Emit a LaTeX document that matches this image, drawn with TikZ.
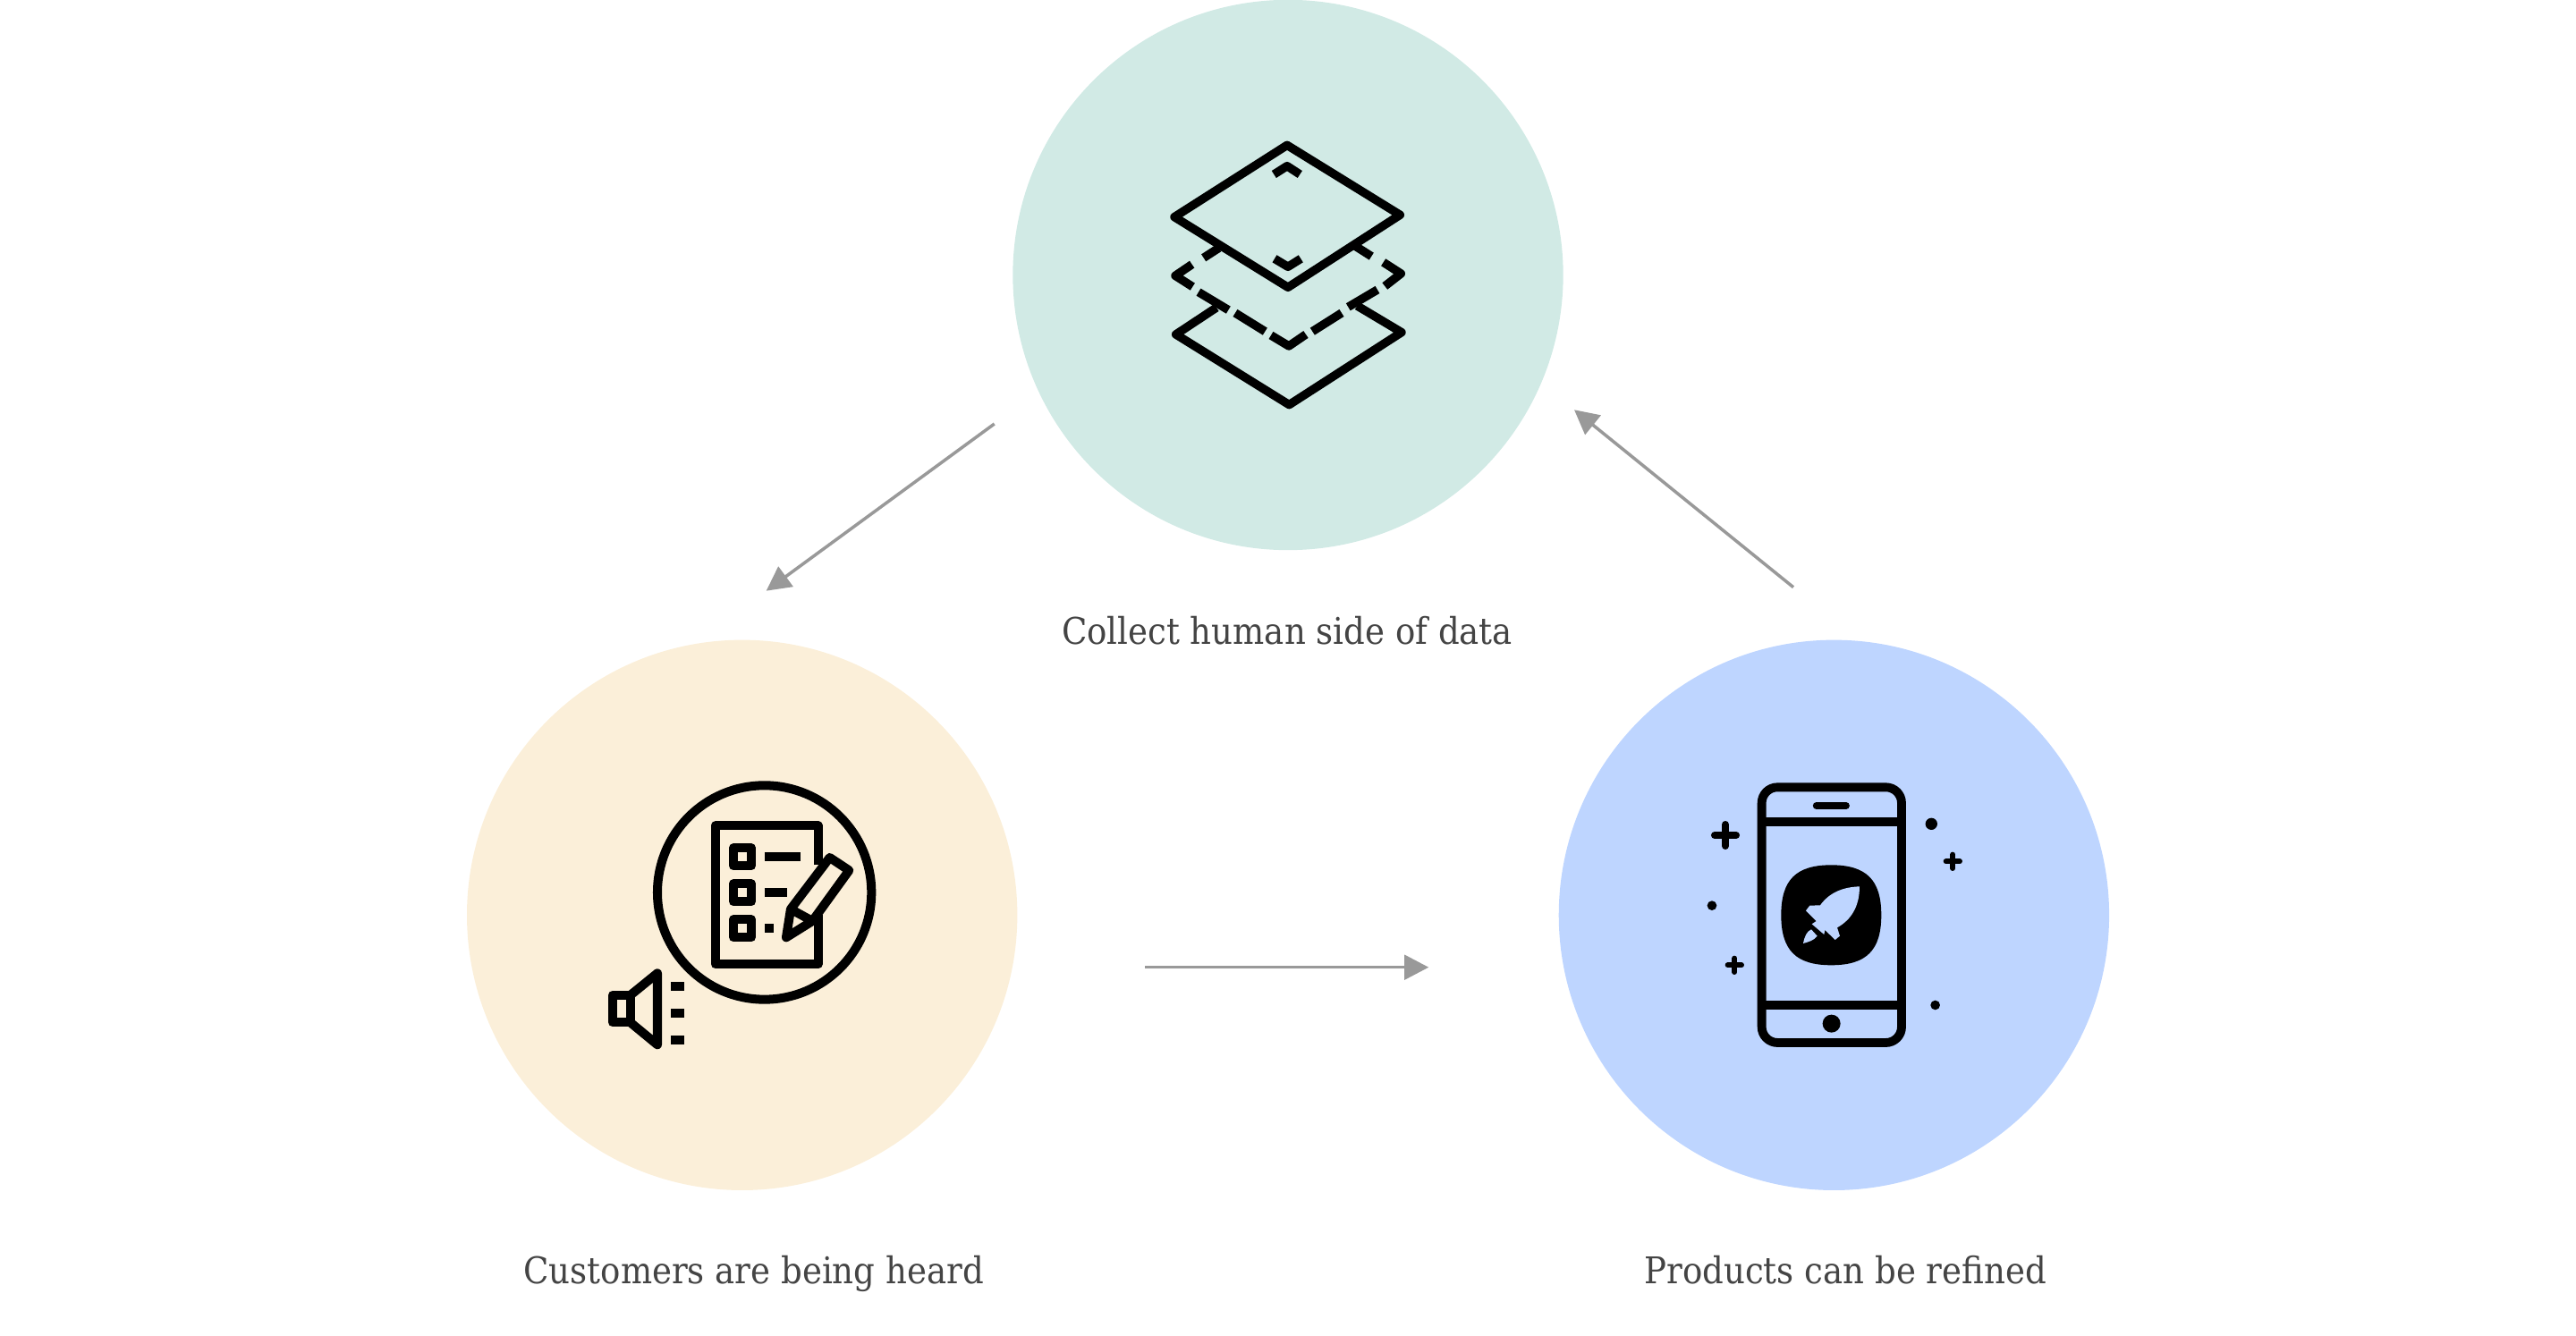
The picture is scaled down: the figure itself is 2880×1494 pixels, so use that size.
\documentclass[tikz,border=0pt]{standalone}
\usepackage{fontspec}
\setmainfont{DejaVu Serif}[FakeStretch=0.902]
\usetikzlibrary{arrows.meta}
\definecolor{tealblob}{HTML}{D1EAE5}
\definecolor{sandblob}{HTML}{FBEFD9}
\definecolor{blueblob}{HTML}{BED5FF}
\definecolor{captiongray}{HTML}{444444}
\definecolor{arrowgray}{HTML}{999999}
\tikzset{
  blob/.style={circle,minimum size=6.15cm,inner sep=0pt,outer sep=0pt},
  caption/.style={anchor=base,inner sep=0pt,text=captiongray,font=\fontsize{11.7pt}{14pt}\selectfont},
  flow/.style={draw=arrowgray,line width=1pt,-{Triangle[length=7.7pt,width=7.8pt]}},
  layerline/.style={line width=2.7pt,line join=round},
  formline/.style={line width=2.85pt,line join=round},
  phoneline/.style={line width=2.8pt,line join=round}
}

\begin{document}
\begin{tikzpicture}[x=.01cm,y=-.01cm]
\useasboundingbox (0,0) rectangle (2880,1494);

\node[blob,fill=tealblob] (collect) at (1440,307.5) {};
\node[blob,fill=sandblob] (heard) at (829.7,1023.3) {};
\node[blob,fill=blueblob] (refined) at (2050.4,1023.3) {};

\node[caption] (collecttext) at (1439,720.5) {Collect human side of data};
\node[caption] (heardtext) at (842.7,1435) {Customers are being heard};
\node[caption] (refinedtext) at (2063.2,1435) {Products can be refined};

\coordinate (collectout) at (1111.7,474);
\coordinate (heardin) at (856.7,660.7);
\coordinate (heardout) at (1280,1081.7);
\coordinate (refinedin) at (1597.3,1081.7);
\coordinate (refinedout) at (2005,656.7);
\coordinate (collectin) at (1760,458.3);
\draw[flow] (collectout) -- (heardin);
\draw[flow] (heardout) -- (refinedin);
\draw[flow] (refinedout) -- (collectin);

\begin{scope}[shift={(1280,130)},scale=.3333]
\draw[layerline] (477,97) -- (856,331) -- (480,574) -- (99,338) -- cycle;
\draw[layerline] (433,195) -- (477,167) -- (520,195);
\draw[layerline] (435,478) -- (480,505) -- (523,478);
\draw[layerline] (240,642) -- (104,732) -- (484,968) -- (861,725) -- (712,636);
\draw[layerline] (158,497) -- (102,535) -- (160,572);
\draw[layerline] (800,490) -- (859,528) -- (805,570);
\draw[layerline] (423,735) -- (483,771) -- (540,732);
\foreach \a/\b/\c/\d in {248/442/197/475, 180/590/280/650, 303/660/403/722, 562/722/660/660, 682/640/780/582, 760/470/705/435}
  \draw[layerline] (\a,\b) -- (\c,\d);
\end{scope}

\begin{scope}[shift={(660,860)},scale=.3333]
\draw[formline] (584,414) circle (359);
\draw[formline] (764,322) -- (764,190) -- (419,190) -- (419,655) -- (764,655) -- (764,490);
\foreach \y in {265,385,505}
  \draw[formline] (480,\y) rectangle (540,\y+60);
\draw[formline] (585,295) -- (705,295);
\draw[formline] (585,415) -- (660,415);
\draw[formline] (585,535) -- (615,535);
\draw[formline] (803,297) -- (868,340) -- (745,510) -- (657,565) -- (672,470) -- cycle;
\draw[formline] (672,470) -- (745,510);
\draw[formline] (134,759) -- (74,759) -- (74,850) -- (134,850) -- cycle;
\draw[formline] (134,759) -- (225,685) -- (225,925) -- (134,850);
\foreach \y in {730,820,910}
  \draw[formline] (270,\y) -- (315,\y);
\end{scope}

\begin{scope}[shift={(1900,870)},scale=.3333]
\draw[phoneline,rounded corners=5pt] (209,31) rectangle (678,888);
\draw[phoneline] (209,148) -- (678,148);
\draw[phoneline] (209,762) -- (678,762);
\draw[line width=2.2pt,line cap=round] (392,93) -- (492,93);
\fill (443,824) circle (30);
\fill (442,292) .. controls (560,292) and (610,342) .. (610,460)
  .. controls (610,578) and (560,628) .. (442,628)
  .. controls (324,628) and (274,578) .. (274,460)
  .. controls (274,342) and (324,292) .. (442,292) -- cycle;
\foreach \a/\b/\r/\w in {87/192/36/2.3pt,850/280/23/1.7pt,118/628/23/1.7pt} {
  \draw[line width=\w,line cap=round] (\a-\r,\b) -- (\a+\r,\b);
  \draw[line width=\w,line cap=round] (\a,\b-\r) -- (\a,\b+\r);
}
\foreach \a/\b/\r in {778/154/20,42/428/16,791/762/16}
  \fill (\a,\b) circle (\r);
\end{scope}

\begin{scope}[shift={(1980,950)},scale=.3333]
\fill[blueblob] (297,124) .. controls (240,126) and (195,145) .. (165,187) -- (130,188) -- (117,205) -- (152,240) -- (137,250) -- (178,285) -- (181,270) -- (215,303) -- (231,290) -- (222,262) .. controls (270,235) and (297,190) .. (297,124) -- cycle;
\fill[blueblob] (108,315) .. controls (113,290) and (120,275) .. (135,268) -- (155,290) .. controls (145,305) and (125,310) .. (108,315) -- cycle;
\end{scope}
\end{tikzpicture}
\end{document}
